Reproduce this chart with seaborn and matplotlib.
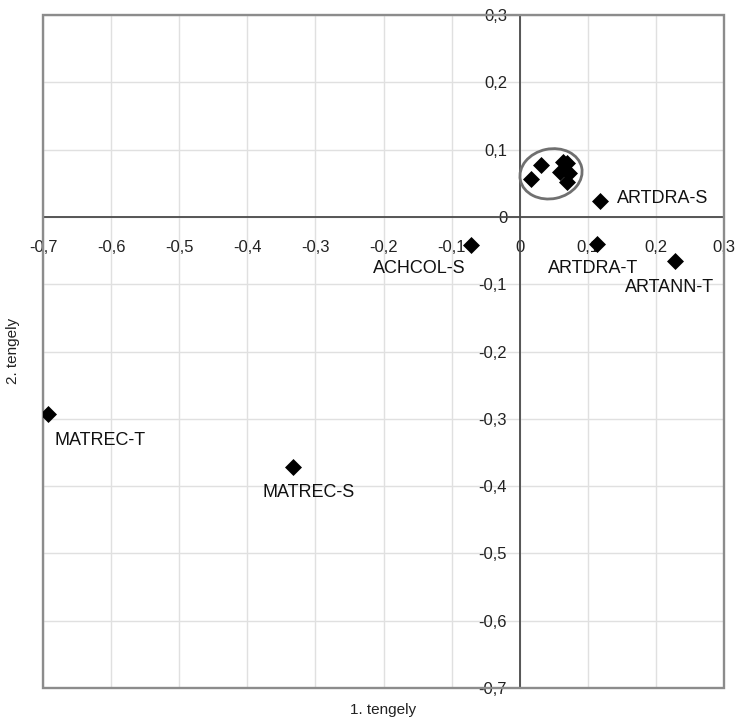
import matplotlib
matplotlib.use("Agg")
import matplotlib.pyplot as plt
import seaborn as sns
import pandas as pd
import numpy as np
from matplotlib.patches import Ellipse, Rectangle
from matplotlib.ticker import FuncFormatter, MultipleLocator

# ---- data ----
names = ["MATREC-T", "MATREC-S", "ACHCOL-S", "ARTDRA-S", "ARTDRA-T", "ARTANN-T",
         "", "", "", "", "", "", ""]
x_vals = [-0.693, -0.333, -0.072, 0.118, 0.113, 0.228,
          0.017, 0.031, 0.064, 0.070, 0.059, 0.073, 0.069]
y_vals = [-0.293, -0.371, -0.042, 0.023, -0.041, -0.065,
          0.056, 0.077, 0.082, 0.080, 0.067, 0.065, 0.052]
x_label = "1. tengely"
y_label = "2. tengely"

df = pd.DataFrame({"name": names, "x": x_vals, "y": y_vals})

sns.set_style("white")
plt.rcParams["font.family"] = ["Liberation Sans", "DejaVu Sans"]

fig = plt.figure(figsize=(7.39, 7.22), dpi=100)
ax = fig.add_axes([43 / 739, 1 - 688 / 722, (724 - 43) / 739, (688 - 15) / 722])

sns.scatterplot(data=df, x="x", y="y", marker="D", color="black", s=75,
                linewidth=0, ax=ax, zorder=5, legend=False)

ax.set_xlim(-0.7, 0.3)
ax.set_ylim(-0.7, 0.3)
ax.xaxis.set_major_locator(MultipleLocator(0.1))
ax.yaxis.set_major_locator(MultipleLocator(0.1))

def fmt(v, pos):
    if abs(v) < 1e-9:
        return "0"
    return f"{v:.1f}".replace(".", ",")

ax.xaxis.set_major_formatter(FuncFormatter(fmt))
ax.yaxis.set_major_formatter(FuncFormatter(fmt))

ax.grid(True, color="#e0e0e0", linewidth=1.0, zorder=0)
ax.set_axisbelow(True)

for side in ["top", "right"]:
    ax.spines[side].set_visible(False)
ax.spines["left"].set_position(("data", 0))
ax.spines["bottom"].set_position(("data", 0))
for side in ["left", "bottom"]:
    ax.spines[side].set_color("#4a4a4a")
    ax.spines[side].set_linewidth(1.3)
    ax.spines[side].set_zorder(3)

ax.tick_params(axis="x", direction="inout", length=9, width=1, color="#4a4a4a",
               pad=12, labelsize=12, labelcolor="#222222")
ax.tick_params(axis="y", direction="out", length=5, width=1, color="#4a4a4a",
               pad=4, labelsize=12, labelcolor="#222222")
ax.set_xlabel("")
ax.set_ylabel("")

# outer frame
ax.add_patch(Rectangle((0, 0), 1, 1, transform=ax.transAxes, fill=False,
                       edgecolor="#8c8c8c", linewidth=1.7, clip_on=False, zorder=4))

# cluster ellipse
ax.add_patch(Ellipse((0.046, 0.064), 0.092, 0.074, angle=12, fill=False,
                     edgecolor="#707070", linewidth=2, zorder=4))

# point labels
offsets = {
    "MATREC-T": (7, -26, "left"),
    "MATREC-S": (-30, -26, "left"),
    "ACHCOL-S": (-5, -23, "right"),
    "ARTDRA-S": (17, 3, "left"),
    "ARTDRA-T": (-49, -24, "left"),
    "ARTANN-T": (-50, -27, "left"),
}
for n, xv, yv in zip(names, x_vals, y_vals):
    if n in offsets:
        dx, dy, ha = offsets[n]
        ax.annotate(n, (xv, yv), xytext=(dx, dy), textcoords="offset pixels",
                    ha=ha, va="center", fontsize=13, color="#111111", zorder=6)

fig.text(383 / 739, 1 - 710 / 722, x_label, ha="center", va="center",
         fontsize=11, color="#222222")
fig.text(13 / 739, 1 - 351 / 722, y_label, ha="center", va="center",
         rotation=90, fontsize=11, color="#222222")

fig.savefig("out.png", dpi=100)
